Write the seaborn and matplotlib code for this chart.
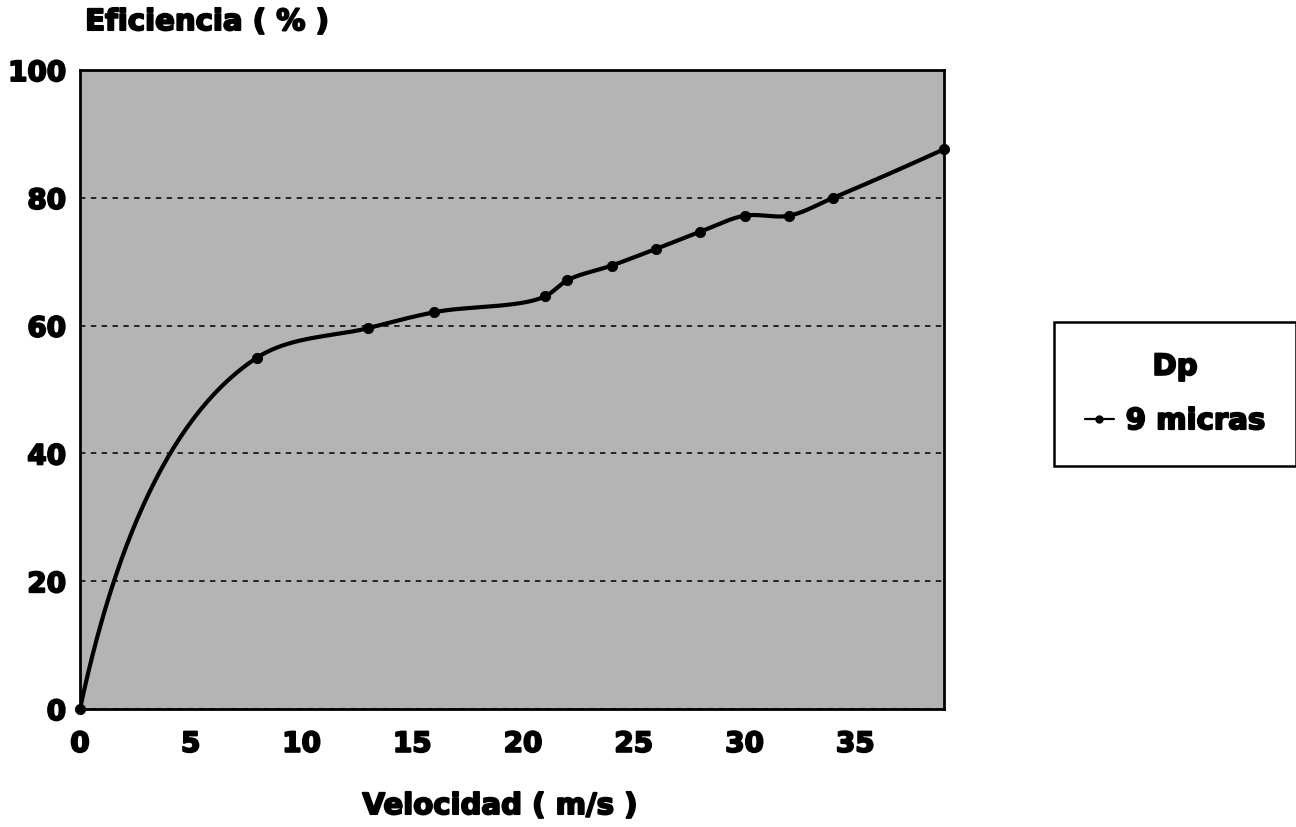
import numpy as np
import matplotlib
matplotlib.use("Agg")
import matplotlib.pyplot as plt
import matplotlib.patheffects as pe
import seaborn as sns
from matplotlib.lines import Line2D

# Measured collection efficiency versus inlet velocity
velocidad = [0, 8, 13, 16, 21, 22, 24, 26, 28, 30, 32, 34, 39]
eficiencia = [0, 55.0, 59.6, 62.1, 64.6, 67.1, 69.4, 72.0, 74.7, 77.2, 77.2, 80.0, 87.6]

x_ticks = [0, 5, 10, 15, 20, 25, 30, 35]
y_ticks = [0, 20, 40, 60, 80, 100]

serie = "9 micras"
leyenda_titulo = "Dp"
x_titulo = "Velocidad ( m/s )"
y_titulo = "Eficiencia ( % )"

sns.set_style("white")
plt.rcParams["font.family"] = ["DejaVu Sans"]
plt.rcParams["font.weight"] = "bold"
plt.rcParams["axes.labelweight"] = "bold"
for clave in ("text.color", "axes.labelcolor", "xtick.color", "ytick.color"):
    plt.rcParams[clave] = "black"

# heavy lettering: bold face plus a thin outline in the same colour
grueso = [pe.withStroke(linewidth=1.4, foreground="black")]
TAM = 21
TAM_TICK = 20

W, H = 1296, 828
fig = plt.figure(figsize=(W / 100, H / 100), dpi=100)
ax = fig.add_axes([80 / W, 1 - 710 / H, 864 / W, 639 / H])
ax.set_xlim(0, 39)
ax.set_ylim(0, 100)
ax.set_facecolor("#b4b4b4")


def curva_suave(xs, ys, alpha=0.7, n=60):
    """Smooth cubic Hermite curve through the points, built in display space."""
    pts = ax.transData.transform(np.column_stack([xs, ys]))
    seg = np.diff(pts, axis=0)
    d = np.hypot(seg[:, 0], seg[:, 1]) ** alpha
    v = seg / d[:, None]
    m = np.empty_like(pts)
    m[1:-1] = (v[:-1] * d[1:, None] + v[1:] * d[:-1, None]) / (d[:-1] + d[1:])[:, None]
    m[0] = v[0] * (2 * d[0] + d[1]) / (d[0] + d[1]) - v[1] * d[0] / (d[0] + d[1])
    m[-1] = v[-1] * (2 * d[-1] + d[-2]) / (d[-1] + d[-2]) - v[-2] * d[-1] / (d[-1] + d[-2])
    t = np.linspace(0, 1, n)[:, None]
    h00 = 2 * t**3 - 3 * t**2 + 1
    h10 = t**3 - 2 * t**2 + t
    h01 = -2 * t**3 + 3 * t**2
    h11 = t**3 - t**2
    partes = []
    for i in range(len(d)):
        p = h00 * pts[i] + h10 * d[i] * m[i] + h01 * pts[i + 1] + h11 * d[i] * m[i + 1]
        partes.append(p if i == 0 else p[1:])
    return ax.transData.inverted().transform(np.vstack(partes))


curva = curva_suave(velocidad, eficiencia)

ax.yaxis.grid(True, color="#1a1a1a", linestyle=(0, (3, 3)), linewidth=1.3)
ax.xaxis.grid(False)
ax.set_axisbelow(True)

sns.lineplot(x=curva[:, 0], y=curva[:, 1], sort=False, estimator=None,
             color="black", linewidth=3, ax=ax, legend=False)
sns.scatterplot(x=velocidad, y=eficiencia, color="black", edgecolor="black",
                s=55, ax=ax, legend=False, zorder=4, clip_on=False)

ax.set_xticks(x_ticks)
ax.set_yticks(y_ticks)
ax.tick_params(axis="both", length=0, labelsize=TAM_TICK)
ax.tick_params(axis="x", pad=15)
ax.tick_params(axis="y", pad=10)
for lbl in ax.get_xticklabels() + ax.get_yticklabels():
    lbl.set_path_effects(grueso)

for s in ax.spines.values():
    s.set_visible(True)
    s.set_color("black")
    s.set_linewidth(2)

ax.set_xlabel(x_titulo, fontsize=TAM, path_effects=grueso)
ax.xaxis.set_label_coords(0.486, -0.13)
ax.set_ylabel(y_titulo, fontsize=TAM, rotation=0, ha="left", va="center",
              path_effects=grueso)
ax.yaxis.set_label_coords(0.006, 1.075)

marca = Line2D([0], [0], color="black", linewidth=1.6, marker="o", markersize=5)
leg = ax.legend(handles=[marca], labels=[serie], title=leyenda_titulo,
                loc="center", bbox_to_anchor=(1175 / W, 1 - 395 / H),
                bbox_transform=fig.transFigure, frameon=True, fancybox=False,
                edgecolor="black", facecolor="white", framealpha=1,
                fontsize=TAM, title_fontproperties={"weight": "bold", "size": TAM},
                handlelength=1.0, handletextpad=0.4, borderpad=1.05, labelspacing=0.9)
leg.get_frame().set_linewidth(1.8)
for txt in leg.get_texts() + [leg.get_title()]:
    txt.set_path_effects(grueso)

fig.savefig("out.png", dpi=100, facecolor="white")
